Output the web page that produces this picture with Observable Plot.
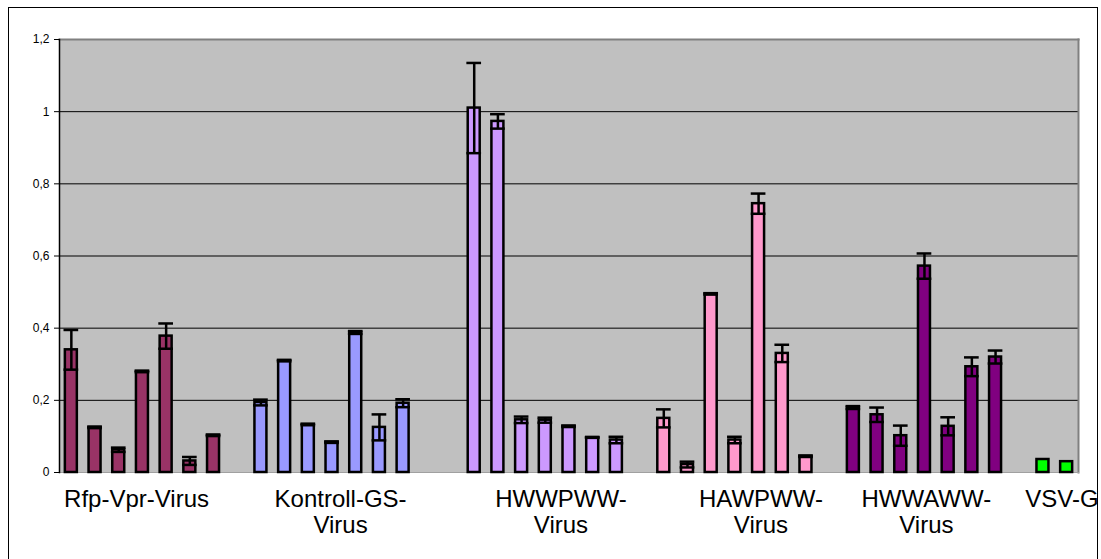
<!DOCTYPE html>
<html>
<head>
<meta charset="utf-8">
<script src="https://cdn.jsdelivr.net/npm/d3@7"></script>
<script src="https://cdn.jsdelivr.net/npm/@observablehq/plot@0.6"></script>
<style>
  html, body { margin: 0; padding: 0; background: #fff; width: 1101px; height: 559px; overflow: hidden; }
  #wrap { position: relative; width: 1101px; height: 559px; }
  #box { position: absolute; left: 8px; top: 7px; width: 1090px; height: 600px; border: 1px solid #000; box-sizing: border-box; }
  #chart { position: absolute; left: 0; top: 0; }
</style>
</head>
<body>
<div id="wrap"><div id="box"></div><div id="chart"></div></div>
<script>
// ---- data ----
const groupLabels = ["Rfp-Vpr-Virus", "Kontroll-GS-\nVirus", "HWWPWW-\nVirus", "HAWPWW-\nVirus", "HWWAWW-\nVirus", "VSV-G"];
const groupColors = ["#993366", "#9999FF", "#CC99FF", "#FF99CC", "#800080", "#00FF00"];
const rfpValues      = [0.34, 0.125, 0.063, 0.28, 0.378, 0.032, 0.103];
const rfpErrors      = [0.055, 0.002, 0.006, 0.002, 0.035, 0.011, 0.002];
const kontrollValues = [0.194, 0.31, 0.133, 0.084, 0.388, 0.125, 0.192, null];
const kontrollErrors = [0.008, 0.002, 0.002, 0.002, 0.004, 0.036, 0.011, null];
const hwwpwwValues   = [1.01, 0.973, 0.146, 0.145, 0.128, 0.097, 0.09];
const hwwpwwErrors   = [0.125, 0.02, 0.009, 0.007, 0.002, 0.001, 0.009];
const hawpwwValues   = [0.15, 0.022, 0.495, 0.09, 0.745, 0.33, 0.045];
const hawpwwErrors   = [0.025, 0.008, 0.002, 0.009, 0.028, 0.024, 0.002];
const hwwawwValues   = [0.18, 0.16, 0.102, 0.572, 0.128, 0.293, 0.32];
const hwwawwErrors   = [0.004, 0.02, 0.028, 0.035, 0.025, 0.026, 0.018];
const vsvValues      = [0.036, 0.03];
const vsvErrors      = [0, 0];
// label centres along the category axis (in category slots)
const labelSlots = [3.25, 11.86, 21.16, 29.6, 36.58, 42.3];
const yTicks = [0, 0.2, 0.4, 0.6, 0.8, 1, 1.2];
const yTickLabels = ["0", "0,2", "0,4", "0,6", "0,8", "1", "1,2"];

// ---- build table ----
const seriesValues = [rfpValues, kontrollValues, hwwpwwValues, hawpwwValues, hwwawwValues, vsvValues];
const seriesErrors = [rfpErrors, kontrollErrors, hwwpwwErrors, hawpwwErrors, hwwawwErrors, vsvErrors];
const bars = [];
let slot = 0;
seriesValues.forEach((vals, g) => {
  vals.forEach((v, k) => {
    if (v != null) bars.push({slot, value: v, err: seriesErrors[g][k], color: groupColors[g]});
    slot++;
  });
  slot++; // empty category between groups
});
const nSlots = slot - 1;
const labels = groupLabels.map((t, i) => ({text: t, pos: labelSlots[i]}));
const gridTicks = yTicks.slice(1, -1);

const chart = Plot.plot({
  width: 1101,
  height: 559,
  marginLeft: 59,
  marginRight: 23,
  marginTop: 39,
  marginBottom: 87,
  x: {type: "linear", domain: [0, nSlots], axis: null},
  y: {domain: [0, 1.2], axis: null},
  color: {type: "identity"},
  style: {fontFamily: "'Liberation Sans', Arial, sans-serif", background: "transparent", overflow: "visible"},
  marks: [
    Plot.frame({fill: "#C0C0C0"}),
    Plot.ruleY(gridTicks, {stroke: "#000", strokeWidth: 1}),
    Plot.frame({anchor: "top", stroke: "#808080", strokeWidth: 2}),
    Plot.frame({anchor: "right", stroke: "#808080", strokeWidth: 2}),
    Plot.frame({anchor: "bottom", stroke: "#A0A0A0", strokeWidth: 1}),
    Plot.axisY({ticks: yTicks, tickFormat: (d) => yTickLabels[yTicks.indexOf(d)], label: null, tickSize: 5, tickPadding: 5, fontSize: 12, stroke: "#000", strokeWidth: 1, color: "#000"}),
    Plot.frame({anchor: "left", stroke: "#000", strokeWidth: 1.5}),
    Plot.rectY(bars, {x1: (d) => d.slot + 0.247, x2: (d) => d.slot + 0.753, y1: 0, y2: "value", fill: "color", stroke: "#000", strokeWidth: 2.5}),
    Plot.ruleX(bars.filter((d) => d.err > 0), {x: (d) => d.slot + 0.5, y1: (d) => d.value - d.err, y2: (d) => d.value + d.err, stroke: "#000", strokeWidth: 2.5}),
    Plot.ruleY(bars.filter((d) => d.err > 0), {x1: (d) => d.slot + 0.19, x2: (d) => d.slot + 0.81, y: (d) => d.value + d.err, stroke: "#000", strokeWidth: 2.5}),
    Plot.ruleY(bars.filter((d) => d.err > 0), {x1: (d) => d.slot + 0.19, x2: (d) => d.slot + 0.81, y: (d) => d.value - d.err, stroke: "#000", strokeWidth: 2.5}),
    Plot.text(labels, {x: "pos", text: "text", frameAnchor: "bottom", lineAnchor: "top", dy: 15, fontSize: 24, lineHeight: 1.12, fill: "#000"})
  ]
});
document.getElementById("chart").appendChild(chart);
</script>
</body>
</html>
